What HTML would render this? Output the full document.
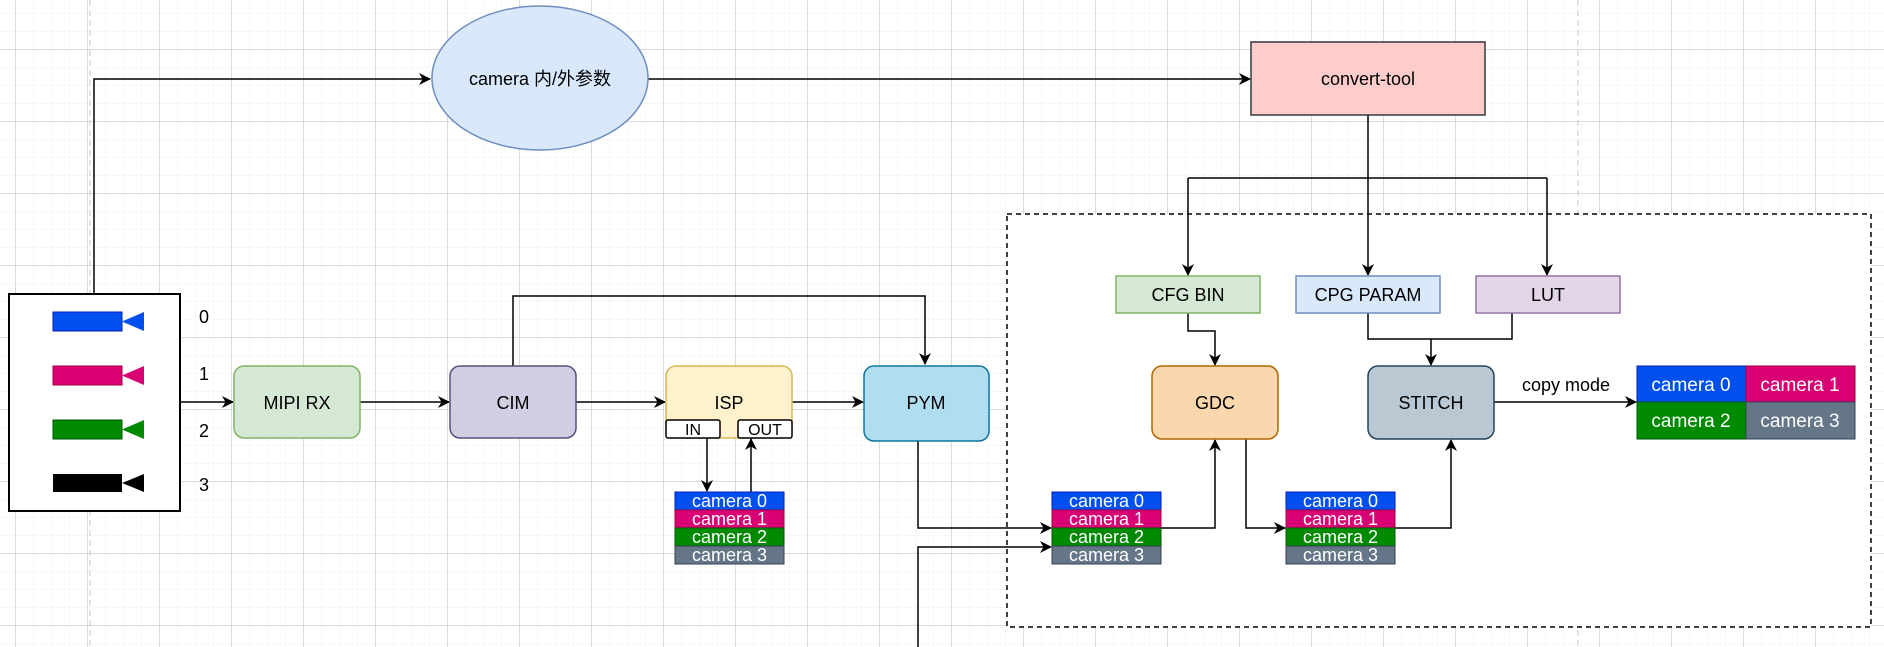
<!DOCTYPE html>
<html><head><meta charset="utf-8"><style>
html,body{margin:0;padding:0;background:#fff;}
svg{display:block;}
text{font-family:"Liberation Sans","Noto Sans CJK SC",sans-serif;}
</style></head><body>
<svg width="1884" height="647" viewBox="0 0 1884 647" xmlns="http://www.w3.org/2000/svg">
<defs>
<pattern id="minor" x="15" y="49" width="18" height="18" patternUnits="userSpaceOnUse">
<path d="M0 0H18M0 0V18" stroke="#f0f0f0" stroke-width="1" fill="none"/></pattern>
<pattern id="major" x="15" y="49" width="72" height="72" patternUnits="userSpaceOnUse">
<path d="M0 0.5H72M0.5 0V72" stroke="#dcdcdc" stroke-width="1" fill="none"/></pattern>
<marker id="a" markerWidth="12" markerHeight="12" refX="11" refY="6" orient="auto" markerUnits="userSpaceOnUse">
<path d="M0 0L12 6L0 12L3.5 6Z" fill="#000"/></marker>
</defs>
<rect width="1884" height="647" fill="url(#minor)"/>
<rect width="1884" height="647" fill="url(#major)"/>
<line x1="90" y1="0" x2="90" y2="647" stroke="#c8c8c8" stroke-dasharray="6 4"/>
<line x1="1578" y1="0" x2="1578" y2="647" stroke="#c8c8c8" stroke-dasharray="6 4"/>

<rect x="1007" y="214" width="864" height="413" fill="#fff" stroke="#000" stroke-width="1.5" stroke-dasharray="5 4"/>

<g stroke="#000" stroke-width="1.5" fill="none">
<path d="M94 294V79H430" marker-end="url(#a)"/>
<path d="M648 79H1250" marker-end="url(#a)"/>
<path d="M1368 115V178"/>
<path d="M1188 178H1547"/>
<path d="M1188 178V275" marker-end="url(#a)"/>
<path d="M1368 178V275" marker-end="url(#a)"/>
<path d="M1547 178V275" marker-end="url(#a)"/>
<path d="M180 402H233" marker-end="url(#a)"/>
<path d="M360 402H449" marker-end="url(#a)"/>
<path d="M576 402H665" marker-end="url(#a)"/>
<path d="M792 402H863" marker-end="url(#a)"/>
<path d="M513 366V296H925V364" marker-end="url(#a)"/>
<path d="M707 438V491" marker-end="url(#a)"/>
<path d="M751 492V439" marker-end="url(#a)"/>
<path d="M918 441V528H1051" marker-end="url(#a)"/>
<path d="M918 647V547H1051" marker-end="url(#a)"/>
<path d="M1161 528H1215V440" marker-end="url(#a)"/>
<path d="M1246 439V528H1285" marker-end="url(#a)"/>
<path d="M1395 528H1451V440" marker-end="url(#a)"/>
<path d="M1188 313V331H1215V365" marker-end="url(#a)"/>
<path d="M1368 313V339H1512V313"/>
<path d="M1431 339V365" marker-end="url(#a)"/>
<path d="M1494 402H1636" marker-end="url(#a)"/>
</g>

<ellipse cx="540" cy="78" rx="108" ry="72" fill="#dae8fc" stroke="#6c8ebf" stroke-width="1.5"/>
<text x="540" y="85" font-size="18" text-anchor="middle">camera 内/外参数</text>
<rect x="1251" y="42" width="234" height="73" fill="#ffcccc" stroke="#36393d" stroke-width="1.5"/>
<text x="1368" y="85" font-size="18" text-anchor="middle">convert-tool</text>

<rect x="9" y="294" width="171" height="217" fill="#fff" stroke="#000" stroke-width="2"/>
<rect x="53" y="312" width="69" height="19" fill="#0050ef" stroke="#001dbc"/><path d="M122 321.5L144 312V331Z" fill="#0050ef"/>
<rect x="53" y="366" width="69" height="19" fill="#d80073" stroke="#a50040"/><path d="M122 375.5L144 366V385Z" fill="#d80073"/>
<rect x="53" y="420" width="69" height="19" fill="#008a00" stroke="#005700"/><path d="M122 429.5L144 420V439Z" fill="#008a00"/>
<rect x="53" y="474" width="69" height="18" fill="#000"/><path d="M122 483L144 474V492Z" fill="#000"/>
<g font-size="18"><text x="199" y="323">0</text><text x="199" y="380">1</text><text x="199" y="437">2</text><text x="199" y="491">3</text></g>

<rect x="234" y="366" width="126" height="72" rx="10" fill="#d5e8d4" stroke="#82b366" stroke-width="1.5"/>
<text x="297" y="409" font-size="18" text-anchor="middle">MIPI RX</text>
<rect x="450" y="366" width="126" height="72" rx="10" fill="#d0cee2" stroke="#56517e" stroke-width="1.5"/>
<text x="513" y="409" font-size="18" text-anchor="middle">CIM</text>
<rect x="666" y="366" width="126" height="72" rx="10" fill="#fff2cc" stroke="#d6b656" stroke-width="1.5"/>
<text x="729" y="409" font-size="18" text-anchor="middle">ISP</text>
<rect x="666" y="420" width="54" height="18" rx="2" fill="#fff" stroke="#000" stroke-width="1.5"/>
<text x="693" y="435" font-size="16" text-anchor="middle">IN</text>
<rect x="738" y="420" width="54" height="18" rx="2" fill="#fff" stroke="#000" stroke-width="1.5"/>
<text x="765" y="435" font-size="16" text-anchor="middle">OUT</text>
<rect x="864" y="366" width="125" height="75" rx="10" fill="#b1ddf0" stroke="#10739e" stroke-width="1.5"/>
<text x="926" y="409" font-size="18" text-anchor="middle">PYM</text>

<rect x="1116" y="276" width="144" height="37" fill="#d5e8d4" stroke="#82b366" stroke-width="1.5"/>
<text x="1188" y="301" font-size="18" text-anchor="middle">CFG BIN</text>
<rect x="1296" y="276" width="144" height="37" fill="#dae8fc" stroke="#6c8ebf" stroke-width="1.5"/>
<text x="1368" y="301" font-size="18" text-anchor="middle">CPG PARAM</text>
<rect x="1476" y="276" width="144" height="37" fill="#e1d5e7" stroke="#9673a6" stroke-width="1.5"/>
<text x="1548" y="301" font-size="18" text-anchor="middle">LUT</text>

<rect x="1152" y="366" width="126" height="73" rx="10" fill="#fad7ac" stroke="#b46504" stroke-width="1.5"/>
<text x="1215" y="409" font-size="18" text-anchor="middle">GDC</text>
<rect x="1368" y="366" width="126" height="73" rx="10" fill="#bac8d3" stroke="#23445d" stroke-width="1.5"/>
<text x="1431" y="409" font-size="18" text-anchor="middle">STITCH</text>
<text x="1566" y="391" font-size="18" text-anchor="middle">copy mode</text>

<g font-size="19" fill="#fff">
<rect x="1637" y="366" width="109" height="36" fill="#0050ef" stroke="#001dbc"/>
<rect x="1746" y="366" width="109" height="36" fill="#d80073" stroke="#a50040"/>
<rect x="1637" y="402" width="109" height="37" fill="#008a00" stroke="#005700"/>
<rect x="1746" y="402" width="109" height="37" fill="#647687" stroke="#314354"/>
<text x="1691" y="391" text-anchor="middle">camera 0</text>
<text x="1800" y="391" text-anchor="middle">camera 1</text>
<text x="1691" y="427" text-anchor="middle">camera 2</text>
<text x="1800" y="427" text-anchor="middle">camera 3</text>
</g>

<g font-size="18" fill="#fff">
<rect x="675" y="492" width="109" height="18" fill="#0050ef" stroke="#001dbc"/>
<rect x="675" y="510" width="109" height="18" fill="#d80073" stroke="#a50040"/>
<rect x="675" y="528" width="109" height="18" fill="#008a00" stroke="#005700"/>
<rect x="675" y="546" width="109" height="18" fill="#647687" stroke="#314354"/>
<text x="729.5" y="507" text-anchor="middle">camera 0</text>
<text x="729.5" y="525" text-anchor="middle">camera 1</text>
<text x="729.5" y="543" text-anchor="middle">camera 2</text>
<text x="729.5" y="561" text-anchor="middle">camera 3</text>
</g>
<g font-size="18" fill="#fff" transform="translate(377,0)">
<rect x="675" y="492" width="109" height="18" fill="#0050ef" stroke="#001dbc"/>
<rect x="675" y="510" width="109" height="18" fill="#d80073" stroke="#a50040"/>
<rect x="675" y="528" width="109" height="18" fill="#008a00" stroke="#005700"/>
<rect x="675" y="546" width="109" height="18" fill="#647687" stroke="#314354"/>
<text x="729.5" y="507" text-anchor="middle">camera 0</text>
<text x="729.5" y="525" text-anchor="middle">camera 1</text>
<text x="729.5" y="543" text-anchor="middle">camera 2</text>
<text x="729.5" y="561" text-anchor="middle">camera 3</text>
</g>
<g font-size="18" fill="#fff" transform="translate(611,0)">
<rect x="675" y="492" width="109" height="18" fill="#0050ef" stroke="#001dbc"/>
<rect x="675" y="510" width="109" height="18" fill="#d80073" stroke="#a50040"/>
<rect x="675" y="528" width="109" height="18" fill="#008a00" stroke="#005700"/>
<rect x="675" y="546" width="109" height="18" fill="#647687" stroke="#314354"/>
<text x="729.5" y="507" text-anchor="middle">camera 0</text>
<text x="729.5" y="525" text-anchor="middle">camera 1</text>
<text x="729.5" y="543" text-anchor="middle">camera 2</text>
<text x="729.5" y="561" text-anchor="middle">camera 3</text>
</g>
</svg>
</body></html>
